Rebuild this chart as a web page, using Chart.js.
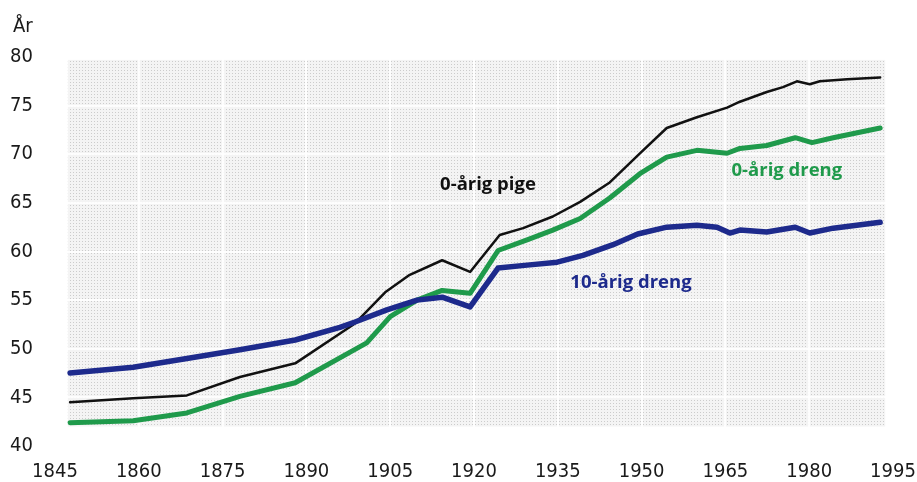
<!DOCTYPE html>
<html lang="da">
<head>
<meta charset="utf-8">
<title>Middellevetid</title>
<script src="https://cdn.jsdelivr.net/npm/chart.js@4.4.1/dist/chart.umd.min.js"></script>
<style>
  html, body { margin: 0; padding: 0; background: #ffffff; }
  #wrap { position: relative; width: 917px; height: 482px; }
</style>
</head>
<body>
<div id="wrap"><canvas id="lifeChart"></canvas></div>
<script>
//-------------------data--------------------
const xTicks = [1845, 1860, 1875, 1890, 1905, 1920, 1935, 1950, 1965, 1980, 1995];
const yTicks = [40, 45, 50, 55, 60, 65, 70, 75, 80];

const pigeYears = [1847.7, 1859.0, 1868.6, 1878.1, 1888.0, 1898.7, 1904.1, 1908.5, 1914.3, 1919.3, 1924.6, 1928.8, 1934.1, 1939.0, 1944.3, 1949.7, 1954.5, 1959.9, 1965.3, 1967.6, 1972.4, 1975.3, 1977.8, 1980.1, 1981.9, 1986.8, 1992.7];
const pigeValues = [44.5, 44.9, 45.2, 47.1, 48.5, 52.6, 55.8, 57.6, 59.1, 57.9, 61.7, 62.4, 63.6, 65.1, 67.1, 70.1, 72.7, 73.8, 74.8, 75.4, 76.4, 76.9, 77.5, 77.2, 77.5, 77.7, 77.9];

const drengYears = [1847.7, 1859.0, 1868.6, 1878.1, 1888.0, 1900.8, 1905.0, 1909.8, 1914.3, 1919.3, 1924.3, 1929.5, 1934.1, 1939.0, 1944.3, 1949.7, 1954.5, 1959.9, 1965.3, 1967.6, 1972.4, 1977.5, 1980.5, 1984.3, 1992.7];
const drengValues = [42.4, 42.6, 43.4, 45.1, 46.5, 50.6, 53.3, 55.0, 56.0, 55.7, 60.1, 61.2, 62.2, 63.4, 65.5, 68.0, 69.7, 70.4, 70.1, 70.6, 70.9, 71.7, 71.2, 71.7, 72.7];

const dreng10Years = [1847.7, 1859.0, 1868.6, 1878.1, 1888.0, 1896.0, 1898.7, 1904.4, 1909.8, 1914.3, 1919.3, 1924.3, 1929.5, 1934.9, 1939.5, 1944.9, 1949.3, 1954.5, 1959.9, 1963.5, 1965.8, 1967.6, 1972.4, 1977.5, 1980.1, 1984.3, 1992.7];
const dreng10Values = [47.5, 48.1, 49.0, 49.9, 50.9, 52.2, 52.75, 54.0, 55.0, 55.3, 54.3, 58.3, 58.6, 58.9, 59.6, 60.7, 61.8, 62.5, 62.7, 62.5, 61.9, 62.2, 62.0, 62.5, 61.9, 62.4, 63.0];

const seriesNames = ["10-årig dreng", "0-årig dreng", "0-årig pige"];
const seriesColors = ["#1d2a8c", "#1f9a4b", "#111111"];
//-------------------data--------------------

function toPoints(xs, ys) {
  return xs.map((x, i) => ({ x: x, y: ys[i] }));
}

const tickFont = { family: "'Liberation Sans Narrow', 'DejaVu Sans Condensed', 'Liberation Sans', sans-serif", size: 20 };
const labelFont = "bold 18.5px 'Open Sans', 'DejaVu Sans', sans-serif";

// text labels placed in data coordinates (year, value)
const seriesLabels = [
  { text: seriesNames[2], color: seriesColors[2], x: 1922.5, y: 66.9 },
  { text: seriesNames[0], color: seriesColors[0], x: 1948.1, y: 56.8 },
  { text: seriesNames[1], color: seriesColors[1], x: 1976.0, y: 68.3 },
];

// printed paper background box (data coordinates)
const bgBox = { x0: 1847.3, x1: 1993.6, y0: 42.0, y1: 79.7 };

//-------------------halftone background--------------------
const dotTile = document.createElement("canvas");
dotTile.width = 3;
dotTile.height = 3;
const tctx = dotTile.getContext("2d");
tctx.fillStyle = "#f4f4f4";
tctx.fillRect(0, 0, 3, 3);
tctx.fillStyle = "#cccccc";
tctx.fillRect(1, 1, 1, 1);

const paperBackground = {
  id: "paperBackground",
  beforeDraw(chart) {
    const { ctx, scales } = chart;
    const left = scales.x.getPixelForValue(bgBox.x0);
    const right = scales.x.getPixelForValue(bgBox.x1);
    const top = scales.y.getPixelForValue(bgBox.y1);
    const bottom = scales.y.getPixelForValue(bgBox.y0);
    ctx.save();
    ctx.fillStyle = ctx.createPattern(dotTile, "repeat");
    ctx.fillRect(left, top, right - left, bottom - top);
    ctx.restore();
  },
};
//-------------------halftone background--------------------

//-------------------labels on lines + unit--------------------
const lineLabels = {
  id: "lineLabels",
  afterDatasetsDraw(chart) {
    const { ctx, scales, chartArea } = chart;
    ctx.save();
    ctx.font = labelFont;
    ctx.textAlign = "center";
    ctx.textBaseline = "middle";
    seriesLabels.forEach((lbl) => {
      ctx.fillStyle = lbl.color;
      ctx.fillText(lbl.text, scales.x.getPixelForValue(lbl.x), scales.y.getPixelForValue(lbl.y));
    });
    // unit over the y axis
    ctx.font = "20px 'Liberation Sans Narrow', 'DejaVu Sans Condensed', 'Liberation Sans', sans-serif";
    ctx.fillStyle = "#1a1a1a";
    ctx.textAlign = "left";
    ctx.fillText("År", 13, chartArea.top - 30);
    ctx.restore();
  },
};
//-------------------labels on lines + unit--------------------

const lifeChart = new Chart(document.getElementById("lifeChart"), {
  type: "line",
  data: {
    datasets: [
      { label: seriesNames[0], data: toPoints(dreng10Years, dreng10Values), borderColor: seriesColors[0], borderWidth: 5.5 },
      { label: seriesNames[1], data: toPoints(drengYears, drengValues), borderColor: seriesColors[1], borderWidth: 5 },
      { label: seriesNames[2], data: toPoints(pigeYears, pigeValues), borderColor: seriesColors[2], borderWidth: 2.5 },
    ],
  },
  options: {
    responsive: true,
    maintainAspectRatio: false,
    animation: false,
    parsing: false,
    layout: { padding: { left: 0, top: 57, right: 24, bottom: 0 } },
    elements: {
      point: { radius: 0 },
      line: { tension: 0, fill: false, borderJoinStyle: "round", borderCapStyle: "round" },
    },
    plugins: {
      legend: { display: false },
      tooltip: { enabled: false },
    },
    scales: {
      x: {
        type: "linear",
        min: xTicks[0],
        max: xTicks[xTicks.length - 1],
        afterBuildTicks: (scale) => { scale.ticks = xTicks.map((v) => ({ value: v })); },
        afterFit: (scale) => {
          scale.height = 36;
          scale.paddingLeft = 0;
          scale.paddingRight = 0;
        },
        border: { display: false },
        grid: { color: "rgba(255,255,255,0.9)", lineWidth: 2, drawTicks: false },
        ticks: {
          padding: 14,
          color: "#1a1a1a",
          font: tickFont,
          maxRotation: 0,
          autoSkip: false,
          callback: (v) => String(v),
        },
      },
      y: {
        min: yTicks[0],
        max: yTicks[yTicks.length - 1],
        afterBuildTicks: (scale) => { scale.ticks = yTicks.map((v) => ({ value: v })); },
        afterFit: (scale) => { scale.width = 55; },
        border: { display: false },
        grid: { color: "rgba(255,255,255,0.9)", lineWidth: 2, drawTicks: false },
        ticks: {
          padding: 22,
          color: "#1a1a1a",
          font: tickFont,
          callback: (v) => String(v),
        },
      },
    },
  },
  plugins: [paperBackground, lineLabels],
});
</script>
</body>
</html>
